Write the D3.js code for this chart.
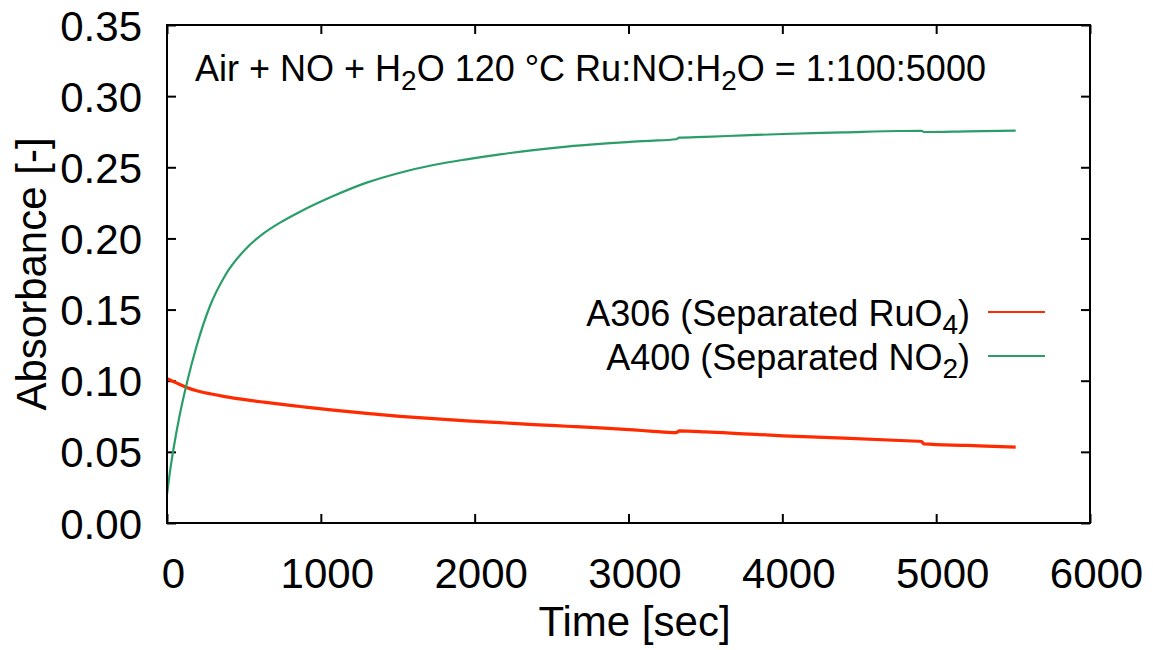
<!DOCTYPE html>
<html><head><meta charset="utf-8">
<script src="https://cdn.jsdelivr.net/npm/d3@7"></script>
<style>
body{margin:0;background:#fff}
text{font-family:"Liberation Sans",Arial,Helvetica,sans-serif;fill:#000}
</style>
</head><body>
<svg id="chart" width="1153" height="650"></svg>
<script>
// ---- data ----
const timeSec = [0, 20, 41, 80, 128, 193, 280, 377, 529, 630, 735, 865, 1081, 1298, 1515, 1732, 1948, 2165, 2382, 2598, 2815, 3032, 3140, 3310, 3330, 3500, 3750, 4005, 4400, 4765, 4905, 4920, 5200, 5517];
const a306 = [0.1015, 0.1005, 0.0995, 0.0975, 0.0953, 0.0930, 0.0908, 0.0888, 0.0863, 0.0849, 0.0835, 0.0819, 0.0793, 0.0770, 0.0750, 0.0733, 0.0718, 0.0705, 0.0692, 0.0680, 0.0668, 0.0654, 0.0646, 0.0635, 0.0647, 0.0641, 0.0627, 0.0613, 0.0597, 0.0580, 0.0573, 0.0556, 0.0545, 0.0533];
const a400 = [0.020, 0.0367, 0.0513, 0.0745, 0.0979, 0.1246, 0.1527, 0.1738, 0.1945, 0.2037, 0.2111, 0.2188, 0.2298, 0.2392, 0.2462, 0.2516, 0.2556, 0.2591, 0.2621, 0.2645, 0.2664, 0.2680, 0.2686, 0.2697, 0.2708, 0.2714, 0.2724, 0.2734, 0.2745, 0.2755, 0.2756, 0.2748, 0.2752, 0.2757];
const xTicks = [0, 1000, 2000, 3000, 4000, 5000, 6000];
const yTicks = [0, 0.05, 0.10, 0.15, 0.20, 0.25, 0.30, 0.35];
const seriesLabels = [["A306 (Separated RuO", "4", ")"], ["A400 (Separated NO", "2", ")"]];
const seriesColors = ["#ff2a00", "#2a9d68"];
const xTitle = "Time [sec]";
const yTitle = "Absorbance [-]";
const annotationParts = [["Air + NO + H", false], ["2", true], ["O 120 °C Ru:NO:H", false], ["2", true], ["O = 1:100:5000", false]];

// ---- layout ----
const L = 167, R = 1090, T = 25, B = 523;
const svg = d3.select("#chart");
const x = d3.scaleLinear().domain([0, 6000]).range([L, R]);
const y = d3.scaleLinear().domain([0, 0.35]).range([B, T]);

const fs = 42;
function styleAxis(g){
  g.select(".domain").remove();
  g.selectAll(".tick line").attr("stroke","#000").attr("stroke-width",2);
  g.selectAll(".tick text").attr("font-size",fs).attr("font-family","'Liberation Sans',Arial,sans-serif").attr("fill","#000");
}
svg.append("g").attr("transform",`translate(0,${B})`)
  .call(d3.axisBottom(x).tickValues(xTicks).tickFormat(d3.format("d")).tickSize(-9).tickSizeOuter(0).tickPadding(35))
  .call(styleAxis)
  .call(g=>g.selectAll(".tick text").attr("dx",6));
svg.append("g").attr("transform",`translate(0,${T})`)
  .call(d3.axisTop(x).tickValues(xTicks).tickFormat("").tickSize(-9).tickSizeOuter(0))
  .call(styleAxis);
svg.append("g").attr("transform",`translate(${L},0)`)
  .call(d3.axisLeft(y).tickValues(yTicks).tickFormat(d3.format(".2f")).tickSize(-9).tickSizeOuter(0).tickPadding(25))
  .call(styleAxis)
  .call(g=>g.selectAll(".tick text").attr("dy","0.36em"));
svg.append("g").attr("transform",`translate(${R},0)`)
  .call(d3.axisRight(y).tickValues(yTicks).tickFormat("").tickSize(-9).tickSizeOuter(0))
  .call(styleAxis);

// ---- series ----
const data = timeSec.map((t,i)=>({t, a306:a306[i], a400:a400[i]}));
const keys = ["a306","a400"];
const widths = [3.2, 2.2];
keys.forEach((k,i)=>{
  svg.append("path").datum(data)
    .attr("fill","none").attr("stroke",seriesColors[i]).attr("stroke-width",widths[i])
    .attr("stroke-linejoin","round")
    .attr("d", d3.line().x(d=>x(d.t)).y(d=>y(d[k])).curve(d3.curveMonotoneX));
});

// frame
svg.append("rect").attr("x",L).attr("y",T).attr("width",R-L).attr("height",B-T)
  .attr("fill","none").attr("stroke","#000").attr("stroke-width",2);

// ---- legend ----
const legBase = [326, 370];
const legLine = [312, 356];
seriesLabels.forEach((parts,i)=>{
  const t = svg.append("text").attr("x",970).attr("y",legBase[i]).attr("text-anchor","end").attr("font-size",36);
  t.append("tspan").text(parts[0]);
  t.append("tspan").attr("font-size",28).attr("dy",8).text(parts[1]);
  t.append("tspan").attr("dy",-8).text(parts[2]);
  svg.append("line").attr("x1",988).attr("x2",1045).attr("y1",legLine[i]).attr("y2",legLine[i])
    .attr("stroke",seriesColors[i]).attr("stroke-width",2);
});

// ---- annotation ----
const ann = svg.append("text").attr("x",195).attr("y",81).attr("font-size",36);
let shifted = false;
annotationParts.forEach(([s,sub])=>{
  const ts = ann.append("tspan").text(s);
  if (sub) { ts.attr("font-size",28).attr("dy",9); shifted = true; }
  else if (shifted) { ts.attr("dy",-9); shifted = false; }
});

// ---- axis titles ----
svg.append("text").attr("x",(L+R)/2 + 6).attr("y",636).attr("text-anchor","middle").attr("font-size",fs).text(xTitle);
svg.append("text").attr("transform",`translate(46,${(T+B)/2}) rotate(-90)`).attr("text-anchor","middle").attr("font-size",fs).text(yTitle);
</script>
</body></html>
